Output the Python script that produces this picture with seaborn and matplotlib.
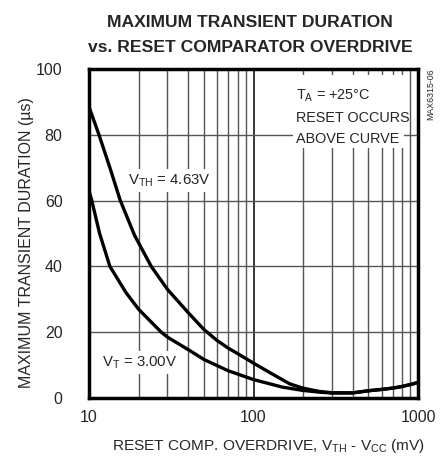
import seaborn as sns
import pandas as pd
import numpy as np
import matplotlib.pyplot as plt
from matplotlib.patches import Rectangle

# overdrive (mV) and max transient duration (us)
overdrive_th = [10, 11.5, 13.4, 15.5, 18.9, 23.9, 30, 40, 50, 60, 70, 80, 100, 130, 166, 200,
                250, 300, 400, 500, 600, 700, 800, 900, 1000]
duration_th = [88.5, 80, 70, 60, 49.5, 40, 33, 26, 20.8, 17.5, 15.2, 13.5, 10.6, 7.3, 4.3, 3.0,
               2.0, 1.6, 1.55, 2.2, 2.6, 3.0, 3.5, 4.1, 4.7]

overdrive_t = [10, 10.4, 11.6, 13.4, 16.8, 20, 27.5, 30, 41, 50, 70, 100, 150, 200,
               250, 300, 400, 500, 600, 700, 800, 900, 1000]
duration_t = [63, 60, 50, 40, 32, 27, 20, 18.5, 14.4, 11.7, 8.3, 5.6, 3.3, 2.3,
              1.8, 1.5, 1.55, 2.2, 2.6, 3.0, 3.5, 4.1, 4.7]

y_ticks = [0, 20, 40, 60, 80, 100]
x_ticks = [10, 100, 1000]

df = pd.concat([
    pd.DataFrame({'x': overdrive_th, 'y': duration_th, 'curve': 'th'}),
    pd.DataFrame({'x': overdrive_t, 'y': duration_t, 'curve': 't'}),
])

sns.set_style('white')
plt.rcParams['font.family'] = ['Liberation Sans', 'DejaVu Sans']
plt.rcParams['mathtext.fontset'] = 'custom'
plt.rcParams['mathtext.rm'] = 'Liberation Sans'
plt.rcParams['mathtext.it'] = 'Liberation Sans'

fig = plt.figure(figsize=(4.42, 4.57), dpi=100)
ax = fig.add_axes([89 / 442, 1 - 398 / 457, 329 / 442, 329 / 457])

# grid at every step of each decade and every 20 us
for d in [10, 100]:
    for m in range(2, 10):
        ax.axvline(d * m, color='#555555', lw=1.0, zorder=1)
ax.axvline(100, color='black', lw=1.1, zorder=1)
for v in [20, 40, 60, 80]:
    ax.axhline(v, color='#555555', lw=1.0, zorder=1)

sns.lineplot(data=df, x='x', y='y', units='curve', estimator=None, color='black',
             lw=2.4, sort=False, ax=ax, zorder=3)

ax.set_xscale('log')
ax.set_xlim(10, 1000)
ax.set_ylim(0, 100)
ax.set_xticks(x_ticks)
ax.set_xticklabels([str(t) for t in x_ticks])
ax.set_yticks(y_ticks)
ax.minorticks_off()
ax.tick_params(axis='x', length=0, pad=9, labelsize=11.5)
ax.tick_params(axis='y', length=0, pad=19, labelsize=11.5)
for s in ax.spines.values():
    s.set_linewidth(2.5)
    s.set_color('black')
ax.set_xlabel('')
ax.set_ylabel('')

fig.text(269 / 442, 1 - 450 / 457, 'RESET COMP. OVERDRIVE, V$_{\\rm TH}$ - V$_{\\rm CC}$ (mV)',
         fontsize=11.1, ha='center', va='baseline')
fig.text(26.5 / 442, 1 - 242.5 / 457, 'MAXIMUM TRANSIENT DURATION (µs)', fontsize=11.5,
         rotation=90, ha='center', va='center')

box = dict(facecolor='white', edgecolor='none', pad=2.5)
ax.text(17.25, 64.9, 'V$_{\\rm TH}$ = 4.63V', fontsize=10.8, va='baseline', ha='left', bbox=box, zorder=4)
ax.text(11.94, 9.6, 'V$_{\\rm T}$ = 3.00V', fontsize=10.8, va='baseline', ha='left', bbox=box, zorder=4)

# white panel behind the condition note
ax.add_patch(Rectangle(((293 - 89) / 329, (398 - 148) / 329), 111 / 329, 73 / 329,
                       transform=ax.transAxes, facecolor='white', edgecolor='none', zorder=2))
note_x = 182
for line, base in [('T$_{\\rm A}$ = +25°C', 90.6), ('RESET OCCURS', 84.0), ('ABOVE CURVE', 77.4)]:
    ax.text(note_x, base, line, fontsize=10.4, va='baseline', ha='left', zorder=4)

fig.text(431 / 442, 1 - 68 / 457, 'MAX6315-06', rotation=90, fontsize=6.3, ha='center', va='top')
fig.text(250 / 442, 1 - 27 / 457, 'MAXIMUM TRANSIENT DURATION',
         fontsize=12.6, fontweight='bold', ha='center', va='baseline')
fig.text(250 / 442, 1 - 52 / 457, 'vs. RESET COMPARATOR OVERDRIVE',
         fontsize=12.6, fontweight='bold', ha='center', va='baseline')

fig.savefig('out.png', dpi=100)
